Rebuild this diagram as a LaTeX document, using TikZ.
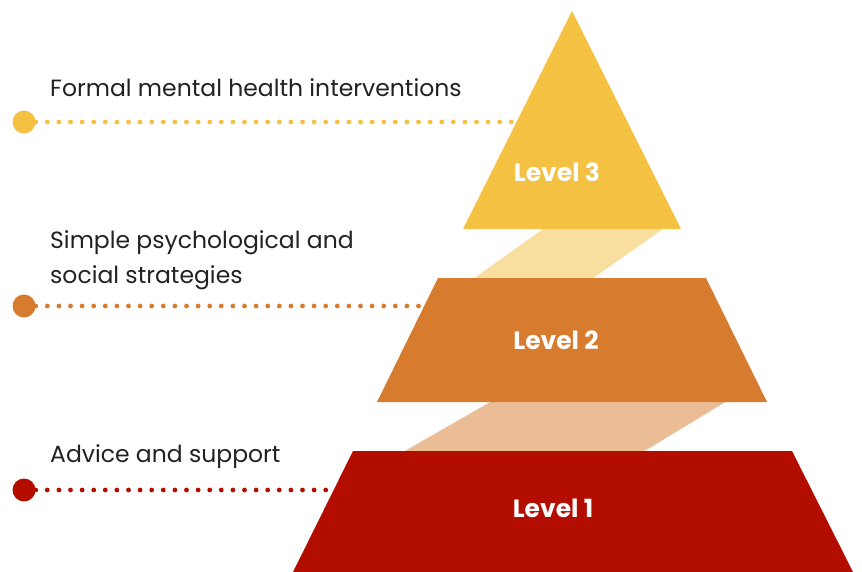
\documentclass[tikz,border=0pt]{standalone}
\usepackage{fontspec}
\setmainfont{Poppins}
\newfontfamily\levelfont{Poppins}

\definecolor{tieryellow}{HTML}{F4C142}
\definecolor{paleyellow}{HTML}{F9DF9F}
\definecolor{tierorange}{HTML}{D77C2E}
\definecolor{paleorange}{HTML}{EBBD96}
\definecolor{tierred}{HTML}{B30D00}
\definecolor{textgrey}{HTML}{222222}

\tikzset{
  level/.style = {font = \levelfont\bfseries\fontsize{25}{25}\selectfont,
                  text = white, inner sep = 0pt},
  tag/.style = {font = \fontsize{23.5}{35}\selectfont, text = textgrey,
                anchor = base west, inner sep = 0pt, align = left},
  bullet/.style = {circle, fill = #1, minimum size = 23pt, inner sep = 0pt},
  leader/.style = {#1, line width = 4.8pt, line cap = round,
                   dash pattern = on 0pt off 11.6pt}
}

\begin{document}
\begin{tikzpicture}[x = 1pt, y = -1pt]
  \useasboundingbox (0,0) rectangle (862,572);

  % pale bands joining the tiers, drawn first so the tiers sit on top
  \fill [paleyellow] (543,229) -- (663,229) -- (592,279) -- (473,279) -- cycle;
  \fill [paleorange] (492,401) -- (727,401) -- (643,452) -- (403,452) -- cycle;

  % the three tiers
  \fill [tieryellow] (572,11) -- (681,229) -- (463,229) -- cycle;
  \fill [tierorange] (438,278) -- (706,278) -- (767,402) -- (377,402) -- cycle;
  \fill [tierred] (353,451) -- (792,451) -- (853,572) -- (293,572) -- cycle;

  \node [level] (lvl3) at (557,172) {Level 3};
  \node [level] (lvl2) at (556,340) {Level 2};
  \node [level] (lvl1) at (553,508) {Level 1};

  % dotted leaders from the bullets to the tiers
  \node [bullet = tieryellow] (dot3) at (24,122) {};
  \node [bullet = tierorange] (dot2) at (24,306) {};
  \node [bullet = tierred]    (dot1) at (24,490) {};
  \coordinate (end3) at (512,122);
  \coordinate (end2) at (419,306);
  \coordinate (end1) at (326,490);
  \draw [leader = tieryellow] (dot3) -- (end3);
  \draw [leader = tierorange] (dot2) -- (end2);
  \draw [leader = tierred]    (dot1) -- (end1);

  \node [tag] (tag3) at (50,97) {Formal mental health interventions};
  \node [tag] (tag2) at (50,283) {Simple psychological and\\social strategies};
  \node [tag] (tag1) at (50,462) {Advice and support};
\end{tikzpicture}
\end{document}
